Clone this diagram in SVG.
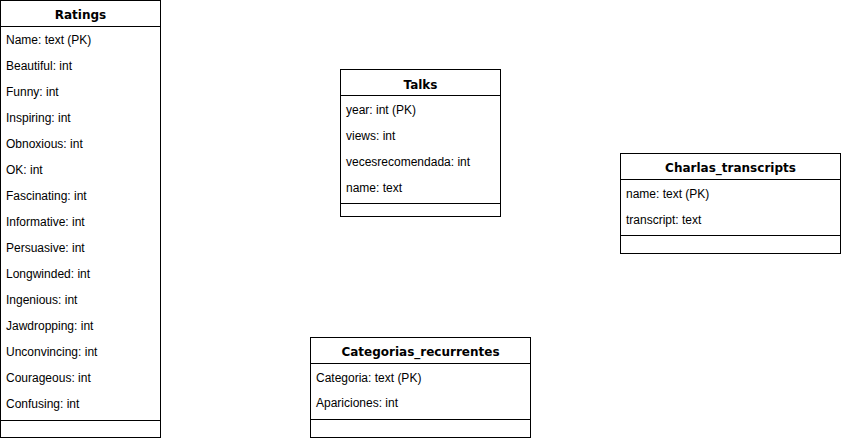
<svg xmlns="http://www.w3.org/2000/svg" width="841" height="438" viewBox="0 0 841 438">
<style>
.box{fill:#ffffff;stroke:#000000;stroke-width:1}
.ln{stroke:#000000;stroke-width:1;fill:none}
.t{font-family:"DejaVu Sans",Verdana,sans-serif;font-weight:bold;font-size:12px;fill:#000;text-anchor:middle}
.f{font-family:"Liberation Sans",Arial,Helvetica,sans-serif;font-size:12px;fill:#000}
</style>
<rect width="841" height="438" fill="#ffffff"/>
<g id="connectors"></g>
<g id="Ratings">
<rect class="box" x="0.5" y="0.5" width="160" height="437"/>
<line class="ln" x1="0.5" y1="26.5" x2="160.5" y2="26.5"/>
<line class="ln" x1="0.5" y1="420.5" x2="160.5" y2="420.5"/>
<text class="t" x="80.5" y="19">Ratings</text>
<text class="f" x="6" y="44">Name: text (PK)</text>
<text class="f" x="6" y="70">Beautiful: int</text>
<text class="f" x="6" y="96">Funny: int</text>
<text class="f" x="6" y="122">Inspiring: int</text>
<text class="f" x="6" y="148">Obnoxious: int</text>
<text class="f" x="6" y="174">OK: int</text>
<text class="f" x="6" y="200">Fascinating: int</text>
<text class="f" x="6" y="226">Informative: int</text>
<text class="f" x="6" y="252">Persuasive: int</text>
<text class="f" x="6" y="278">Longwinded: int</text>
<text class="f" x="6" y="304">Ingenious: int</text>
<text class="f" x="6" y="330">Jawdropping: int</text>
<text class="f" x="6" y="356">Unconvincing: int</text>
<text class="f" x="6" y="382">Courageous: int</text>
<text class="f" x="6" y="408">Confusing: int</text>
</g>
<g id="Talks">
<rect class="box" x="340.5" y="69.5" width="160" height="147"/>
<line class="ln" x1="340.5" y1="95.5" x2="500.5" y2="95.5"/>
<line class="ln" x1="340.5" y1="203.5" x2="500.5" y2="203.5"/>
<text class="t" x="420.5" y="88.5">Talks</text>
<text class="f" x="346" y="113.5">year: int (PK)</text>
<text class="f" x="346" y="139.5">views: int</text>
<text class="f" x="346" y="165.5">vecesrecomendada: int</text>
<text class="f" x="346" y="191.5">name: text</text>
</g>
<g id="Charlas_transcripts">
<rect class="box" x="620.5" y="153.5" width="220" height="100"/>
<line class="ln" x1="620.5" y1="179.5" x2="840.5" y2="179.5"/>
<line class="ln" x1="620.5" y1="235.5" x2="840.5" y2="235.5"/>
<text class="t" x="730.5" y="172">Charlas_transcripts</text>
<text class="f" x="626" y="197.5">name: text (PK)</text>
<text class="f" x="626" y="223.5">transcript: text</text>
</g>
<g id="Categorias_recurrentes">
<rect class="box" x="310.5" y="337.5" width="220" height="100"/>
<line class="ln" x1="310.5" y1="363.5" x2="530.5" y2="363.5"/>
<line class="ln" x1="310.5" y1="419.5" x2="530.5" y2="419.5"/>
<text class="t" x="420.5" y="356">Categorias_recurrentes</text>
<text class="f" x="316" y="381.5">Categoria: text (PK)</text>
<text class="f" x="316" y="407">Apariciones: int</text>
</g>
</svg>
